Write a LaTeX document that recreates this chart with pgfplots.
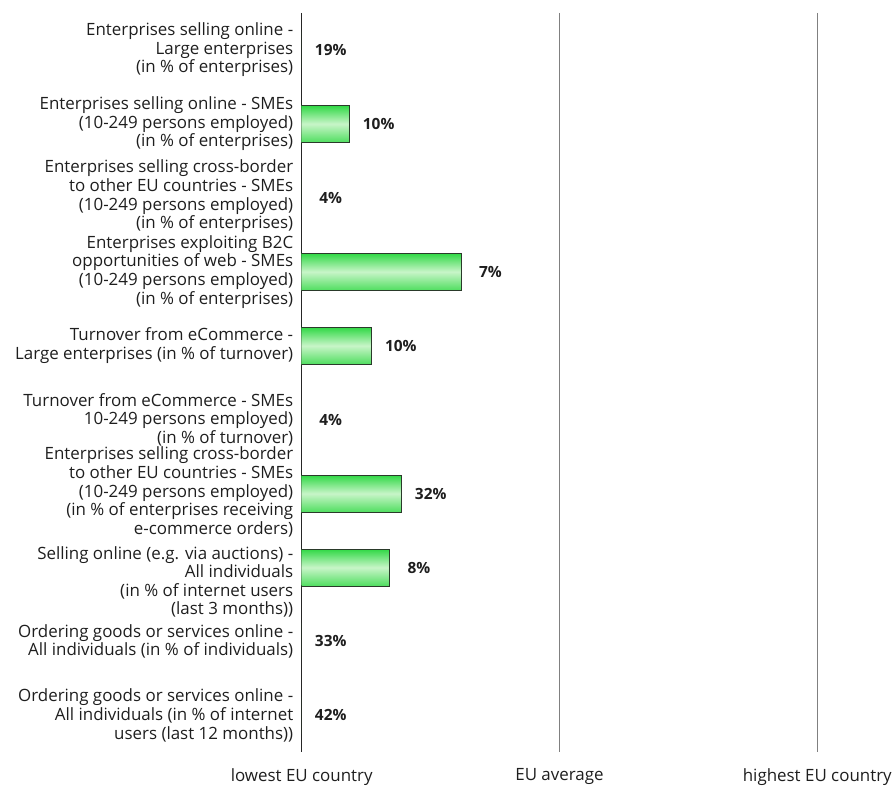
\documentclass[border=0pt]{standalone}
\usepackage{pgfplots}
\pgfplotsset{compat=1.18}
\usepackage{fontspec}
\setmainfont{Open Sans}
\definecolor{txt}{HTML}{1E1E1E}
\definecolor{gtop}{HTML}{30D845}
\definecolor{gmid}{HTML}{C8F5C8}
\definecolor{gbot}{HTML}{50DE60}
\definecolor{gedge}{HTML}{2A3A2A}
\pgfplotsset{gbar/.style={draw=gedge, line width=0.8bp, top color=gtop, bottom color=gbot, middle color=gmid}}
\begin{document}
\begin{tikzpicture}
\begin{axis}[
  name=ax,
  scale only axis,
  width=516bp, height=740bp,
  xmin=0, xmax=1,
  ymin=-0.5, ymax=9.5,
  y dir=reverse,
  axis line style={draw=none},
  major tick length=0pt,
  xtick={0.5,1},
  xticklabels={EU average,highest EU country},
  extra x ticks={0},
  extra x tick labels={lowest EU country},
  extra x tick style={grid style={draw=black!85, line width=0.9bp}},
  xmajorgrids,
  grid style={draw=black!50, line width=0.8bp},
  xticklabel style={font=\fontsize{17}{18}\selectfont, text=txt, yshift=-13bp},
  ytick={0,...,9},
  yticklabel style={font=\fontsize{17}{18.7}\selectfont, text=txt, align=right, xshift=-5bp},
  yticklabels={
    {Enterprises selling online -\\Large enterprises\\(in \% of enterprises)},
    {Enterprises selling online - SMEs\\(10-249 persons employed)\\(in \% of enterprises)},
    {Enterprises selling cross-border\\to other EU countries - SMEs\\(10-249 persons employed)\\(in \% of enterprises)\\[-11.7bp]\mbox{}},
    {Enterprises exploiting B2C\\opportunities of web - SMEs\\(10-249 persons employed)\\(in \% of enterprises)},
    {Turnover from eCommerce -\\Large enterprises (in \% of turnover)},
    {Turnover from eCommerce - SMEs\\10-249 persons employed)\\(in \% of turnover)},
    {Enterprises selling cross-border\\to other EU countries - SMEs\\(10-249 persons employed)\\(in \% of enterprises receiving\\e-commerce orders)\\[-12.7bp]\mbox{}},
    {\mbox{}\\[23bp]Selling online (e.g. via auctions) -\\All individuals\\(in \% of internet users\\(last 3 months))},
    {Ordering goods or services online -\\All individuals (in \% of individuals)},
    {Ordering goods or services online -\\All individuals (in \% of internet\\users (last 12 months))}
  },
  xbar, bar width=37bp, bar shift=0pt,
  nodes near coords,
  point meta=explicit symbolic,
  every node near coord/.append style={anchor=center, xshift=29bp, font=\fontsize{15.5}{18}\selectfont\bfseries, text=txt},
]
\addplot[gbar] coordinates {(0,0) [19\%]};
\addplot[gbar] coordinates {(0.093,1) [10\%]};
\addplot[gbar] coordinates {(0,2) [4\%]};
\addplot[gbar] coordinates {(0.31,3) [7\%]};
\addplot[gbar] coordinates {(0.136,4) [10\%]};
\addplot[gbar] coordinates {(0,5) [4\%]};
\addplot[gbar] coordinates {(0.194,6) [32\%]};
\addplot[gbar] coordinates {(0.171,7) [8\%]};
\addplot[gbar] coordinates {(0,8) [33\%]};
\addplot[gbar] coordinates {(0,9) [42\%]};
\end{axis}
\path (ax.south west) ++(-302bp,-31bp) coordinate (bl);
\path (ax.north east) ++(77bp,13bp) coordinate (tr);
\path (bl) rectangle (tr);
\end{tikzpicture}
\end{document}
